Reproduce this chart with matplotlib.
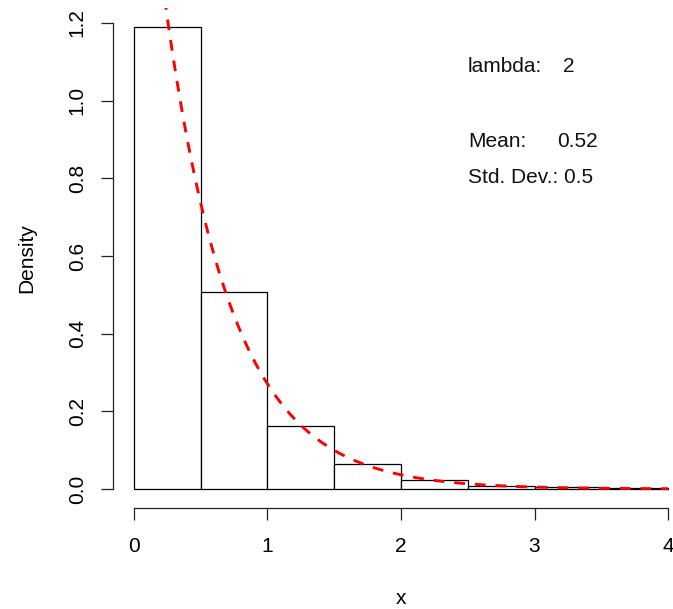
import numpy as np
import matplotlib
matplotlib.use("Agg")
import matplotlib.pyplot as plt

plt.rcParams['font.family'] = ['Liberation Sans', 'DejaVu Sans']

# Histogram of exponential sample (density scale)
bin_edges = [0.0, 0.5, 1.0, 1.5, 2.0, 2.5, 3.0, 3.5, 4.0]
densities = [1.19, 0.508, 0.163, 0.064, 0.024, 0.007, 0.006, 0.002]

lam = 2
sample_mean = 0.52
sample_sd = 0.5

x_ticks = [0, 1, 2, 3, 4]
y_ticks = [0.0, 0.2, 0.4, 0.6, 0.8, 1.0, 1.2]
y_tick_labels = ["0.0", "0.2", "0.4", "0.6", "0.8", "1.0", "1.2"]

W, H, DPI = 673, 609, 100
FS = 15
fig = plt.figure(figsize=(W / DPI, H / DPI), dpi=DPI)

ymax = max(densities)
xlo, xhi = bin_edges[0], bin_edges[-1]
xpad = 0.04 * (xhi - xlo)
ax = fig.add_axes([112.6 / W, (H - 507.5) / H, (689.4 - 112.6) / W, (507.5 - 8.4) / H])
ax.set_xlim(xlo - xpad, xhi + xpad)
ax.set_ylim(-0.04 * ymax, 1.04 * ymax)

widths = np.diff(bin_edges)
ax.bar(bin_edges[:-1], densities, width=widths, align='edge',
       facecolor='white', edgecolor='black', linewidth=0.9, zorder=2)

xs = np.linspace(xlo, xhi, 400)
line, = ax.plot(xs, lam * np.exp(-lam * xs), color='#ff0000', linewidth=2.1, zorder=3)
line.set_dashes((3.7, 3.4))

for s in ('top', 'right'):
    ax.spines[s].set_visible(False)
ax.spines['left'].set_bounds(y_ticks[0], y_ticks[-1])
ax.spines['bottom'].set_bounds(x_ticks[0], x_ticks[-1])
for s in ('left', 'bottom'):
    ax.spines[s].set_linewidth(0.9)
    ax.spines[s].set_color('#222222')

ax.set_xticks(x_ticks)
ax.set_xticklabels([str(t) for t in x_ticks])
ax.set_yticks(y_ticks)
ax.set_yticklabels(y_tick_labels, rotation=90, va='center')
ax.tick_params(axis='both', length=8.6, width=0.9, color='#222222', labelsize=FS)
ax.tick_params(axis='x', pad=12.5)
ax.tick_params(axis='y', pad=10)

ax.set_xlabel('x', fontsize=FS, labelpad=24)
ax.set_ylabel('Density', fontsize=FS, labelpad=23)

txt = dict(fontsize=FS, va='baseline', ha='left', color='#111111')
ax.text(2.5, 1.075, 'lambda:', **txt)
ax.text(3.21, 1.075, str(lam), **txt)
ax.text(2.5, 0.881, 'Mean:', **txt)
ax.text(3.17, 0.881, f'{sample_mean:.2f}', **txt)
ax.text(2.5, 0.788, f'Std. Dev.: {sample_sd}', **txt)

fig.savefig('out.png', dpi=DPI)
